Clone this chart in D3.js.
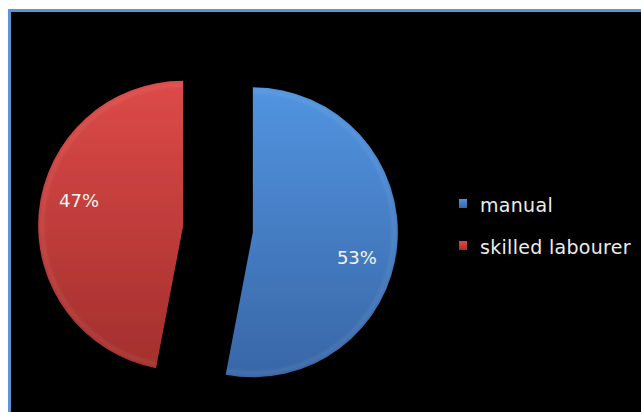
<!DOCTYPE html>
<html>
<head>
<meta charset="utf-8">
<script src="https://cdn.jsdelivr.net/npm/d3@7"></script>
<style>
  html, body { margin: 0; padding: 0; background: #ffffff; }
  svg { display: block; }
</style>
</head>
<body>
<svg id="chart" width="641" height="412"></svg>
<script>
// Share of workers by type
const categories = ["manual", "skilled labourer"];
const values = [53, 47];
const labels = ["53%", "47%"];
const topColors = ["#5294e0", "#dc4a48"];
const bottomColors = ["#3866a6", "#a32f2d"];

const width = 641, height = 412;
const svg = d3.select("#chart");

// framed black plot area
svg.append("rect")
  .attr("x", 9.5).attr("y", 10.5)
  .attr("width", width + 20).attr("height", height + 20)
  .attr("fill", "#000")
  .attr("stroke", "#5c95d4")
  .attr("stroke-width", 3);

const defs = svg.append("defs");
categories.forEach((c, i) => {
  const g = defs.append("linearGradient")
    .attr("id", "grad" + i)
    .attr("x1", 0).attr("y1", 0).attr("x2", 0).attr("y2", 1);
  g.append("stop").attr("offset", "0%").attr("stop-color", topColors[i]);
  g.append("stop").attr("offset", "100%").attr("stop-color", bottomColors[i]);
});
defs.append("filter").attr("id", "soft")
  .append("feGaussianBlur").attr("stdDeviation", 0.7);
defs.append("filter").attr("id", "softer")
  .append("feGaussianBlur").attr("stdDeviation", 1.5);

// pie layout, clockwise from 12 o'clock, slices pulled apart
const cx = 218, cy = 229;
const radius = 145;
const explode = 35;
const pie = d3.pie().sort(null).value(d => d)(values);
const arc = d3.arc().innerRadius(0).outerRadius(radius);
const labelRadius = 107;
const labelTurn = 0.14;

const slices = svg.append("g").attr("transform", `translate(${cx},${cy})`);

pie.forEach((p, i) => {
  const mid = (p.startAngle + p.endAngle) / 2;
  const ox = explode * Math.sin(mid), oy = -explode * Math.cos(mid);
  const g = slices.append("g").attr("transform", `translate(${ox},${oy})`);
  g.append("path")
    .attr("d", arc(p))
    .attr("fill", `url(#grad${i})`)
    .attr("filter", "url(#soft)");
  // faint bevel along the rim
  g.append("path")
    .attr("d", d3.arc().innerRadius(radius - 6).outerRadius(radius - 2)(p))
    .attr("fill", "#ffffff")
    .attr("opacity", 0.07)
    .attr("filter", "url(#softer)");
  const a = mid + labelTurn;
  g.append("text")
    .attr("x", labelRadius * Math.sin(a))
    .attr("y", -labelRadius * Math.cos(a))
    .attr("dy", "0.36em")
    .attr("text-anchor", "middle")
    .attr("font-family", "DejaVu Sans, sans-serif")
    .attr("font-size", 18)
    .attr("fill", "#f4f4f4")
    .text(labels[i]);
});

// legend
const legend = svg.append("g").attr("transform", "translate(459,199)");
const legendY = d3.scalePoint().domain(categories).range([0, 42]);
categories.forEach((c, i) => {
  const row = legend.append("g").attr("transform", `translate(0,${legendY(c)})`);
  row.append("rect")
    .attr("width", 8).attr("height", 9)
    .attr("fill", `url(#grad${i})`);
  row.append("text")
    .attr("x", 21).attr("y", 13)
    .attr("font-family", "DejaVu Sans, sans-serif")
    .attr("font-size", 19)
    .attr("letter-spacing", 0.3)
    .attr("fill", "#ececec")
    .text(c);
});
</script>
</body>
</html>
